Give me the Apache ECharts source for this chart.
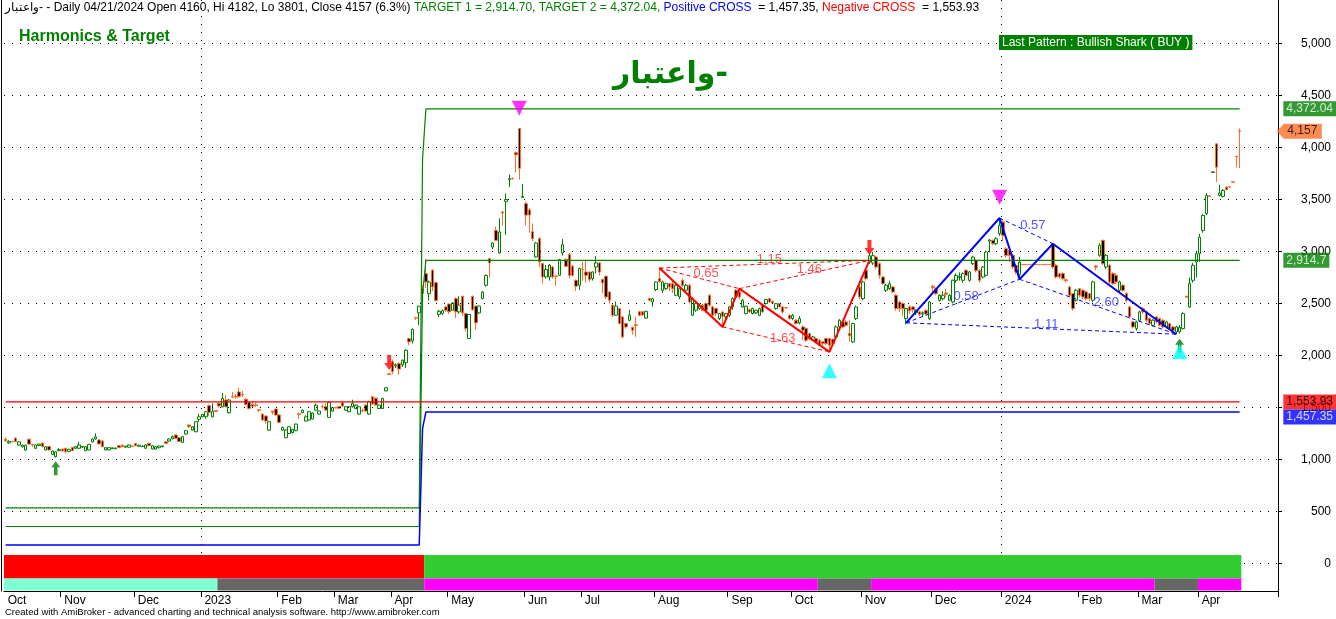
<!DOCTYPE html>
<html><head><meta charset="utf-8">
<script src="https://cdn.jsdelivr.net/npm/echarts@6.0.0/dist/echarts.min.js"></script>
<style>html,body{margin:0;padding:0;background:#fff}#c{width:1336px;height:619px}</style>
</head><body><div id="c"></div>
<script>
// ---------------- DATA ----------------
const symbolName = 'واعتبار-';
const dateLabel = '04/21/2024';
const patternText = 'Last Pattern : Bullish Shark ( BUY )';
const footerText = 'Created with AmiBroker - advanced charting and technical analysis software. http://www.amibroker.com';

const monthStarts = [0,17,39,59,82,99,116,133,156,173,195,217,236,257,278,299,322,340,358];
const monthLabels = ['Oct','Nov','Dec','2023','Feb','Mar','Apr','May','Jun','Jul','Aug','Sep','Oct','Nov','Dec','2024','Feb','Mar','Apr'];
const yearStarts = [59,299];
const blankBars = 11;
const gridValues = [0,500,1000,1500,2000,2500,3000,3500,4000,4500,5000];

// daily candles: [open, close, low, high]
const ohlc = [
[1195,1180,1170,1215],[1160,1175,1150,1185],[1172,1170,1165,1180],[1205,1172,1165,1215],[1138,1170,1132,1175],[1122,1138,1115,1142],[1090,1138,1085,1142],[1195,1148,1140,1200],[1145,1140,1120,1148],[1108,1140,1100,1145],
[1135,1148,1130,1152],[1158,1125,1118,1162],[1092,1123,1088,1128],[1125,1092,1085,1130],[1050,1082,1045,1086],[1027,1075,1020,1080],[1085,1095,1080,1110],[1100,1082,1075,1105],[1108,1075,1060,1112],[1078,1098,1070,1102],
[1117,1085,1080,1120],[1108,1123,1100,1128],[1108,1140,1105,1170],[1118,1125,1112,1130],[1085,1123,1080,1128],[1092,1146,1088,1150],[1170,1197,1165,1200],[1198,1218,1190,1252],[1188,1150,1145,1195],[1178,1123,1118,1182],
[1092,1114,1088,1118],[1092,1114,1088,1116],[1105,1112,1100,1115],[1103,1110,1100,1114],[1133,1114,1110,1136],[1136,1123,1118,1150],[1118,1128,1115,1132],[1118,1140,1112,1144],[1130,1124,1120,1134],[1155,1133,1128,1158],
[1127,1138,1122,1142],[1125,1130,1120,1135],[1108,1140,1104,1146],[1155,1132,1128,1160],[1101,1133,1096,1136],[1100,1123,1096,1126],[1113,1130,1108,1133],[1122,1130,1118,1134],[1170,1155,1150,1175],[1178,1197,1172,1202],
[1200,1220,1194,1232],[1236,1204,1200,1240],[1210,1172,1168,1214],[1165,1220,1160,1224],[1245,1277,1240,1282],[1331,1315,1300,1335],[1283,1315,1278,1320],[1267,1363,1262,1367],[1386,1411,1360,1440],[1411,1434,1405,1438],
[1411,1459,1390,1465],[1517,1453,1420,1530],[1411,1463,1405,1540],[1470,1463,1455,1475],[1540,1515,1500,1548],[1507,1588,1500,1640],[1572,1507,1500,1620],[1450,1572,1440,1580],[1605,1600,1590,1650],[1605,1600,1585,1630],
[1650,1605,1595,1690],[1625,1620,1600,1660],[1580,1530,1520,1590],[1550,1490,1480,1560],[1530,1510,1500,1560],[1525,1520,1505,1545],[1478,1473,1455,1480],[1437,1380,1370,1440],[1418,1370,1345,1425],[1283,1363,1275,1370],
[1465,1455,1430,1468],[1485,1428,1420,1490],[1428,1357,1350,1435],[1283,1309,1275,1315],[1209,1283,1205,1290],[1250,1315,1245,1320],[1258,1290,1250,1295],[1277,1341,1272,1345],[1440,1433,1390,1450],[1450,1475,1445,1480],
[1370,1411,1365,1425],[1380,1459,1375,1465],[1390,1447,1385,1452],[1475,1523,1470,1540],[1437,1466,1430,1470],[1510,1505,1490,1530],[1507,1475,1470,1540],[1405,1549,1400,1555],[1466,1498,1460,1502],[1500,1497,1490,1505],
[1510,1494,1488,1515],[1546,1514,1505,1550],[1475,1507,1470,1512],[1459,1507,1455,1512],[1507,1540,1500,1575],[1490,1523,1485,1530],[1437,1507,1430,1512],[1470,1466,1455,1490],[1523,1466,1460,1530],[1437,1555,1430,1565],
[1603,1533,1530,1610],[1590,1525,1518,1597],[1490,1523,1485,1528],[1491,1588,1485,1592],[1660,1690,1655,1695],[1825,1818,1810,1830],[1940,1845,1820,1960],[1900,1910,1880,1925],[1922,1870,1815,1935],[1910,1955,1890,1962],
[1930,2050,1880,2062],[2163,2131,2100,2170],[2140,2250,2115,2262],[2365,2360,2340,2372],[2410,2474,2291,2480],[2643,2595,2499,2675],[2787,2707,2650,2931],[2595,2705,2530,2720],[2820,2660,2620,2830],[2700,2530,2520,2710],
[2395,2425,2370,2440],[2405,2430,2390,2445],[2467,2435,2420,2475],[2495,2420,2400,2500],[2435,2505,2430,2510],[2547,2420,2360,2560],[2420,2485,2400,2570],[2570,2410,2380,2575],[2403,2260,2230,2410],[2164,2394,2160,2400],
[2570,2440,2430,2575],[2475,2314,2250,2480],[2410,2475,2400,2480],[2548,2610,2540,2620],[2675,2770,2660,2780],[2932,2890,2750,2940],[3043,3082,3020,3090],[3203,3107,3100,3240],[2986,3187,2980,3320],[3380,3370,3250,3390],
[3482,3500,3160,3560],[3690,3700,3620,3740],[3705,3700,3690,3710],[3950,3930,3760,3960],[4182,3800,3690,4182],[3520,3530,3520,3650],[3460,3350,3250,3480],[3400,3350,3180,3420],[3190,3125,3100,3270],[2947,3082,2940,3090],
[3123,2900,2850,3140],[2884,2755,2690,2890],[2755,2826,2740,2870],[2755,2870,2720,2880],[2851,2755,2740,2860],[2765,2760,2670,2775],[2771,2922,2765,2930],[2986,3066,2960,3120],[2922,2858,2850,2935],[2970,2771,2740,2985],
[2858,2771,2760,2870],[2723,2666,2620,2730],[2675,2836,2630,2845],[2830,2826,2720,2900],[2803,2771,2700,2920],[2803,2730,2710,2810],[2740,2803,2720,2810],[2851,2890,2790,2955],[2890,2803,2770,2900],[2730,2698,2600,2740],
[2762,2563,2540,2770],[2611,2531,2500,2620],[2483,2387,2370,2495],[2387,2475,2380,2520],[2452,2308,2300,2460],[2371,2179,2165,2380],[2307,2275,2260,2315],[2339,2387,2330,2440],[2270,2243,2200,2280],[2295,2288,2179,2371],
[2420,2387,2375,2430],[2420,2390,2380,2430],[2360,2425,2355,2430],[2548,2531,2520,2560],[2515,2545,2470,2555],[2634,2707,2620,2712],[2740,2710,2700,2841],[2627,2707,2600,2720],[2643,2691,2630,2700],[2691,2659,2620,2700],
[2691,2643,2600,2720],[2579,2675,2570,2690],[2563,2643,2540,2650],[2723,2675,2660,2740],[2627,2675,2620,2690],[2675,2515,2500,2690],[2387,2547,2380,2560],[2435,2499,2420,2510],[2451,2483,2440,2500],[2483,2435,2425,2495],
[2499,2435,2410,2510],[2579,2483,2470,2590],[2467,2387,2370,2480],[2451,2403,2380,2460],[2355,2403,2340,2410],[2419,2378,2275,2425],[2371,2403,2350,2410],[2387,2467,2370,2475],[2467,2547,2440,2560],[2627,2563,2555,2640],
[2611,2563,2540,2643],[2467,2531,2460,2545],[2403,2474,2395,2480],[2441,2419,2410,2450],[2403,2451,2395,2460],[2410,2435,2400,2440],[2387,2451,2380,2460],[2483,2419,2410,2490],[2499,2538,2490,2545],[2547,2515,2505,2555],
[2521,2505,2495,2530],[2451,2499,2440,2505],[2499,2467,2460,2505],[2467,2419,2400,2475],[2462,2458,2450,2465],[2387,2355,2345,2395],[2355,2387,2340,2400],[2339,2307,2300,2350],[2314,2355,2300,2380],[2275,2243,2147,2291],
[2259,2147,2130,2270],[2211,2163,2150,2220],[2147,2179,2140,2190],[2163,2131,2120,2175],[2147,2099,2090,2160],[2131,2115,2095,2140],[2163,2115,2100,2170],[2163,2099,2035,2170],[2153,2115,2100,2165],[2179,2275,2170,2290],
[2275,2339,2260,2350],[2323,2275,2260,2335],[2323,2291,2280,2340],[2211,2190,2131,2339],[2131,2307,2120,2315],[2355,2467,2340,2480],[2659,2563,2540,2680],[2547,2707,2530,2720],[2819,2739,2720,2840],[2900,2960,2880,2990],
[2890,2960,2870,2995],[2947,2851,2830,2960],[2883,2771,2740,2895],[2755,2691,2680,2765],[2627,2675,2610,2690],[2643,2691,2630,2720],[2659,2611,2600,2670],[2579,2451,2430,2590],[2515,2451,2420,2525],[2499,2451,2380,2510],
[2355,2451,2300,2460],[2467,2430,2400,2480],[2467,2440,2410,2475],[2410,2435,2390,2445],[2420,2395,2380,2430],[2400,2410,2370,2425],[2435,2400,2390,2440],[2355,2515,2340,2525],[2665,2655,2600,2680],[2643,2595,2580,2655],
[2531,2579,2520,2590],[2547,2579,2530,2620],[2600,2590,2560,2640],[2531,2579,2525,2590],[2515,2723,2500,2730],[2723,2771,2700,2790],[2750,2760,2720,2800],[2723,2787,2700,2800],[2819,2771,2760,2830],[2723,2803,2710,2815],
[2883,2947,2870,2960],[2915,2819,2800,2925],[2819,2723,2700,2830],[2755,2851,2740,2860],[2771,2995,2760,3010],[3100,3110,2990,3120],[3107,3075,3060,3115],[3075,3123,3060,3140],[3171,3251,3150,3322],[3283,3155,3100,3300],
[3027,2963,2940,3040],[3011,2963,2900,3020],[2963,2851,2830,2975],[2867,2803,2780,2880],[2780,2900,2733,2950],[2876,2874,2873,2877],[2876,2874,2873,2877],[2876,2874,2873,2877],[2876,2874,2873,2877],[2876,2874,2873,2877],
[2876,2874,2873,2877],[2876,2874,2873,2877],[2876,2874,2873,2877],[2876,2874,2873,2877],[3070,2851,2830,3075],[2867,2755,2740,2880],[2787,2755,2740,2795],[2787,2739,2720,2800],[2728,2720,2700,2735],[2659,2579,2560,2670],
[2595,2451,2430,2600],[2531,2627,2520,2640],[2643,2579,2560,2650],[2627,2563,2540,2640],[2611,2547,2530,2620],[2595,2547,2520,2600],[2531,2707,2510,2720],[2860,2850,2820,2870],[2963,3059,2950,3080],[3107,2883,2870,3115],
[2851,2963,2830,2975],[2867,2707,2690,2880],[2787,2691,2680,2800],[2771,2707,2690,2790],[2627,2707,2610,2720],[2675,2627,2610,2690],[2595,2531,2510,2610],[2467,2371,2350,2480],[2323,2275,2260,2335],[2259,2323,2240,2335],
[2339,2419,2320,2430],[2451,2419,2400,2465],[2419,2339,2320,2430],[2355,2307,2290,2365],[2291,2339,2280,2350],[2371,2323,2310,2380],[2355,2291,2280,2365],[2339,2275,2260,2350],[2275,2323,2260,2335],[2307,2259,2245,2315],
[2275,2243,2230,2285],[2227,2275,2205,2285],[2227,2270,2212,2290],[2259,2403,2250,2420],[2570,2560,2555,2575],[2467,2691,2460,2750],[2723,2867,2700,2890],[2899,2979,2750,3000],[2979,3139,2900,3170],[3203,3347,3180,3360],
[3363,3539,3350,3560],[3535,3530,3525,3540],[3760,3765,3755,3770],[4035,3811,3667,4040],[3539,3562,3530,3642],[3530,3587,3520,3600],[3619,3594,3590,3625],[3622,3619,3615,3625],[3670,3667,3663,3672],[3915,3911,3811,3918],
[4160,4157,3801,4182]
];

// step levels: [firstBar, lastBar, value]
const target1Steps = [[0,124,356],[125,125,2591],[126,370,2914.70]];
const target2Steps = [[0,124,534],[125,125,3887],[126,370,4372.04]];
const posCrossSteps = [[0,124,178],[125,125,1296],[126,370,1457.35]];
const negCrossSteps = [[0,370,1553.93]];

// state ribbons: [firstBar, lastBar, state]
const ribbonTop = [[0,125,'sell'],[126,370,'buy']];
const ribbonBottom = [[0,63,'aqua'],[64,125,'gray'],[126,243,'mag'],[244,259,'gray'],[260,344,'mag'],[345,357,'gray'],[358,370,'mag']];

// harmonic patterns X,A,B,C,D : [bar, price]
const redPattern = [[196,2841],[215,2275],[220,2643],[247,2035],[259,2915]];
const bluePattern = [[270,2314],[298,3322],[304,2733],[314,3075],[351,2205]];
const patternLegs = [[0,2],[1,3],[2,4],[0,4]];
const redRatios = [['0.65',210,2793],['1.63',233,2168],['1.46',241,2832],['1.15',229,2928]];
const blueRatios = [['0.58',288,2572],['0.57',308,3255],['2.60',330,2514],['1.11',312,2303]];

// signal markers: [bar, price]
const sellArrows = [[115,1933],[259,3038]];
const buyArrows = [[15,915],[352,2093]];
const topMarks = [[154,4377],[298,3522]];
const bottomMarks = [[247,1853],[352,2037]];

// ---------------- BUILD ----------------
const FONT = "'Liberation Sans', Arial, sans-serif";
const Y_MIN = -264.4, Y_MAX = 5418.3;
const nBars = ohlc.length;
const categories = Array.from({length: nBars + blankBars}, (_, i) => String(i));
const lastCat = categories.length - 1;
const labelMap = new Map(monthStarts.map((m, k) => [m, monthLabels[k]]));
const tickSet = new Set(monthStarts.filter(m => m > 0));
const yearSet = new Set(yearStarts);

function stepsToLine(steps) {
  const d = new Array(nBars).fill(null);
  steps.forEach(([a, b, v]) => { for (let i = a; i <= b; i++) d[i] = v; });
  return d;
}
const fmt = v => v.toLocaleString('en-US', {minimumFractionDigits: 0, maximumFractionDigits: 2});
const fmt2 = v => v.toLocaleString('en-US', {minimumFractionDigits: 2, maximumFractionDigits: 2});

const t1 = target1Steps[target1Steps.length - 1][2];
const t2 = target2Steps[target2Steps.length - 1][2];
const pc = posCrossSteps[posCrossSteps.length - 1][2];
const nc = negCrossSteps[negCrossSteps.length - 1][2];
const last = ohlc[nBars - 1], prev = ohlc[nBars - 2];
const pct = ((last[1] / prev[1] - 1) * 100).toFixed(1);

const hdrText = [
  `{k|${symbolName} - Daily ${dateLabel} Open ${last[0]}, Hi ${last[3]}, Lo ${last[2]}, Close ${last[1]} (${pct}%) }`,
  `{g|TARGET 1 = ${fmt2(t1)}, TARGET 2 = ${fmt2(t2)}, }`,
  `{b|Positive CROSS}`,
  `{k|  = ${fmt2(pc)}, }`,
  `{r|Negative CROSS}`,
  `{k|  = ${fmt2(nc)}}`
].join('');

const ribbonPalette = {sell: '#FF0000', buy: '#33CC33', aqua: '#7FFFD4', gray: '#666666', mag: '#FF00FF'};
const ribbonRows = [...ribbonTop.map(s => ({s, row: 0})), ...ribbonBottom.map(s => ({s, row: 1}))];

function legSeries(points, color) {
  return patternLegs.map(([a, b]) => ({
    type: 'line', data: [points[a], points[b]], symbol: 'none', silent: true, z: 5,
    lineStyle: {color, width: 1, type: [4, 3]}
  }));
}
function ratioSeries(list, color) {
  return {
    type: 'scatter', silent: true, z: 7, symbolSize: 0, clip: false,
    data: list.map(([t, x, y]) => ({name: t, value: [x, y]})),
    label: {show: true, position: 'inside', formatter: '{b}', color, fontSize: 13, fontFamily: FONT}
  };
}
function markerSeries(data, symbol, size, color) {
  return {type: 'scatter', data, symbol, symbolSize: size, silent: true, z: 8, clip: false, itemStyle: {color}};
}

const tags = [
  {v: t2, bg: '#008000', fg: '#FFFFFF', dy: 0},
  {v: t1, bg: '#008000', fg: '#FFFFFF', dy: 0},
  {v: nc, bg: '#FF0000', fg: '#000000', dy: 0},
  {v: pc, bg: '#0000FF', fg: '#FFFFFF', dy: 5}
];

const option = {
  animation: false,
  backgroundColor: '#FFFFFF',
  textStyle: {fontFamily: FONT},
  title: [
    {left: 5, top: 2, padding: 0, text: hdrText,
     textStyle: {fontSize: 12, fontWeight: 'normal', fontFamily: FONT, color: '#000',
       rich: {
         k: {color: '#000000', fontSize: 12, fontFamily: FONT},
         g: {color: '#008000', fontSize: 12, fontFamily: FONT},
         b: {color: '#0000FF', fontSize: 12, fontFamily: FONT},
         r: {color: '#FF0000', fontSize: 12, fontFamily: FONT}
       }}},
    {left: 19, top: 29, padding: 0, text: 'Harmonics & Target',
     textStyle: {fontSize: 16, fontWeight: 'bold', color: '#008000', fontFamily: FONT}},
    {left: 613, top: 60, padding: 0, text: symbolName,
     textStyle: {fontSize: 30, fontWeight: 'bold', color: '#008000', fontFamily: "'DejaVu Sans', sans-serif"}},
    {left: 999, top: 35, padding: [2, 3, 1, 3], backgroundColor: '#008000', text: patternText,
     textStyle: {fontSize: 12, lineHeight: 12, fontWeight: 'normal', color: '#FFFFFF', fontFamily: FONT}},
    {left: 5, top: 607, padding: 0, text: footerText,
     textStyle: {fontSize: 9.5, fontWeight: 'normal', color: '#000', fontFamily: FONT}}
  ],
  grid: {left: 4, right: 58, top: 0, bottom: 28, containLabel: false},
  xAxis: {
    type: 'category', data: categories, boundaryGap: true,
    axisLine: {show: true, onZero: false, lineStyle: {color: '#000', width: 1}},
    axisTick: {show: true, interval: i => tickSet.has(i), length: 6, lineStyle: {color: '#000'}},
    axisLabel: {interval: i => labelMap.has(i), formatter: (v, i) => labelMap.get(i) || '',
      align: 'left', padding: [0, 0, 0, 2], margin: 4, fontSize: 12, color: '#000', fontFamily: FONT, hideOverlap: false},
    splitLine: {show: true, interval: i => yearSet.has(i), lineStyle: {type: [1, 7], color: '#000', width: 1}}
  },
  yAxis: [
    {type: 'value', position: 'right', min: Y_MIN, max: Y_MAX,
     axisLine: {show: true, onZero: false, lineStyle: {color: '#000', width: 1}},
     axisTick: {show: true, customValues: gridValues, length: 4, lineStyle: {color: '#000'}},
     axisLabel: {customValues: gridValues, formatter: v => fmt(v), align: 'right', margin: 53,
       fontSize: 12, color: '#000', fontFamily: FONT},
     splitLine: {show: false}},
    {type: 'value', position: 'left', offset: 3, min: Y_MIN, max: Y_MAX,
     axisLine: {show: true, onZero: false, lineStyle: {color: '#000', width: 1}},
     axisTick: {show: false}, axisLabel: {show: false}, splitLine: {show: false}}
  ],
  series: [
    {type: 'line', data: [], silent: true, z: 1,
     markLine: {silent: true, symbol: ['none', 'none'], label: {show: false}, animation: false,
       lineStyle: {type: [1, 7], color: '#000', width: 1},
       data: gridValues.map(v => ({yAxis: v}))}},
    {type: 'custom', silent: true, z: 9, clip: false,
     data: ribbonRows.map(r => [r.s[0], r.s[1], r.row]),
     encode: {x: [0, 1], y: 2},
     renderItem: (params, api) => {
       const cs = params.coordSys;
       const bw = api.size([1, 0])[0];
       const x0 = api.coord([api.value(0), 0])[0] - bw / 2;
       const x1 = api.coord([api.value(1), 0])[0] + bw / 2;
       const bottom = cs.y + cs.height;
       const row = api.value(2);
       const y0 = row === 0 ? bottom - 36 : bottom - 12.5;
       const y1 = row === 0 ? bottom - 12.5 : bottom - 0.5;
       return {type: 'rect', shape: {x: x0, y: y0, width: x1 - x0, height: y1 - y0},
         style: {fill: ribbonPalette[ribbonRows[params.dataIndex].s[2]]}};
     }},
    {type: 'candlestick', data: ohlc, barWidth: 3, silent: true, z: 3,
     itemStyle: {color: '#FFFFFF', color0: '#000000', borderColor: '#008000', borderColor0: '#FF6E28', borderWidth: 1}},
    {type: 'line', data: stepsToLine(target1Steps), symbol: 'none', silent: true, z: 4, lineStyle: {color: '#008000', width: 1.2}},
    {type: 'line', data: stepsToLine(target2Steps), symbol: 'none', silent: true, z: 4, lineStyle: {color: '#008000', width: 1.2}},
    {type: 'line', data: stepsToLine(posCrossSteps), symbol: 'none', silent: true, z: 4, lineStyle: {color: '#0000FF', width: 1.5}},
    {type: 'line', data: stepsToLine(negCrossSteps), symbol: 'none', silent: true, z: 4, lineStyle: {color: '#FF0000', width: 1.2}},
    {type: 'line', data: redPattern, symbol: 'none', silent: true, z: 6, lineStyle: {color: '#FF0000', width: 2}},
    {type: 'line', data: bluePattern, symbol: 'none', silent: true, z: 6, lineStyle: {color: '#0000FF', width: 2}},
    ...legSeries(redPattern, '#FF0000'),
    ...legSeries(bluePattern, '#0000FF'),
    ratioSeries(redRatios, '#FF2A2A'),
    ratioSeries(blueRatios, '#2A2AFF'),
    markerSeries(sellArrows, 'path://M3,0 L7,0 L7,8 L10,8 L5,15 L0,8 L3,8 Z', [10, 15], '#FF0000'),
    markerSeries(buyArrows, 'path://M5,0 L10,6 L7,6 L7,14 L3,14 L3,6 L0,6 Z', [9, 14], '#008000'),
    markerSeries(topMarks, 'path://M0,0 L10,0 L5,10 Z', [15, 15], '#FF00FF'),
    markerSeries(bottomMarks, 'path://M5,0 L10,10 L0,10 Z', [15, 15], '#00FFFF'),
    {type: 'scatter', silent: true, z: 10, clip: false, symbolSize: 0,
     data: tags.map(t => ({value: [lastCat, t.v],
       label: {backgroundColor: t.bg, color: t.fg, offset: [0, t.dy]}})),
     label: {show: true, position: 'right', distance: 7, formatter: p => fmt(p.value[1]),
       fontSize: 12, lineHeight: 12, padding: [2, 3, 1, 3], fontFamily: FONT}},
    {type: 'scatter', silent: true, z: 10, clip: false,
     data: [[lastCat, last[1]]],
     symbol: 'path://M0,7.5 L7,0 L45,0 L45,15 L7,15 Z', symbolSize: [45, 15], symbolOffset: [23, 0],
     itemStyle: {color: '#FF6E28'},
     label: {show: true, position: 'inside', formatter: p => fmt(p.value[1]), color: '#000',
       fontSize: 12, fontFamily: FONT, offset: [3, 0]}}
  ]
};

const chart = echarts.init(document.getElementById('c'), null, {renderer: 'canvas', width: 1336, height: 619});
chart.setOption(option);
</script>
</body></html>
